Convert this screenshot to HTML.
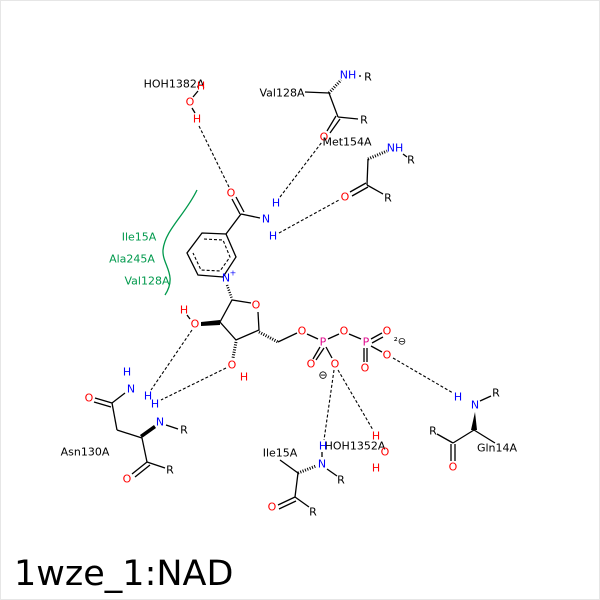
<!DOCTYPE html>
<html><head><meta charset="utf-8"><style>
html,body{margin:0;padding:0;background:#fff}
svg{display:block}
text{font-family:"DejaVu Sans","Liberation Sans",sans-serif;font-size:11px}
.b{stroke:#000;stroke-width:1.3;fill:none}
.d{stroke:#000;stroke-width:1.1;stroke-dasharray:3,2;fill:none}
.r{fill:#f00}.n{fill:#00f}.p{fill:#e0088c}.g{fill:#00994c}
</style></head><body>
<svg width="600" height="600" viewBox="0 0 600 600" xmlns="http://www.w3.org/2000/svg">
<rect x="0.5" y="0.5" width="599" height="599" fill="#fff" stroke="#e6e6e6"/>
<g text-anchor="middle" dominant-baseline="central">
<text x="174" y="84">HOH1382A</text>
<text x="201" y="86" class="r">H</text>
<text x="190" y="102" class="r">O</text>
<text x="197" y="119" class="r">H</text>
<line class="b" x1="193" y1="97" x2="198" y2="91"/>
<line class="b" x1="192" y1="108" x2="195" y2="113"/>
<line class="d" x1="199" y1="126" x2="229" y2="187"/>
<text x="231" y="193" class="r">O</text>
<line class="b" x1="232" y1="199" x2="240" y2="214"/>
<line class="b" x1="236" y1="197" x2="244" y2="212"/>
<line class="b" x1="241" y1="214" x2="260" y2="218"/>
<text x="266" y="219" class="n">N</text>
<text x="276" y="203" class="n">H</text>
<text x="273" y="236" class="n">H</text>
<line class="b" x1="241" y1="214" x2="226" y2="234"/>
<line class="d" x1="280" y1="197" x2="322" y2="142"/>
<line class="d" x1="279" y1="233" x2="339" y2="200"/>
<polygon class="b" points="202,233 226,234 236,257 223,277 198,275 187,253"/>
<polyline class="d" points="204,239 223,240 230,257 220,271 201,270 193,253"/>
<text x="226" y="278" class="n">N</text><text x="233" y="273" class="n" style="font-size:8px">+</text>
<line class="d" x1="227" y1="285" x2="232" y2="299" style="stroke-width:2.5;stroke-dasharray:1,1.5"/>
<polyline class="b" points="251,303 232,300 220,322 236,340 259,330 258,312"/>
<text x="256" y="305" class="r">O</text>
<polygon points="220,320 220,325 201,326 201,322" fill="#000"/>
<text x="195" y="324" class="r">O</text>
<text x="184" y="310" class="r">H</text>
<line class="b" x1="190" y1="319" x2="187" y2="315"/>
<line class="d" x1="236" y1="342" x2="233" y2="358" style="stroke-width:3;stroke-dasharray:1,1.5"/>
<text x="232" y="365" class="r">O</text>
<text x="244" y="377" class="r">H</text>
<line class="d" x1="259" y1="332" x2="278" y2="342" style="stroke-width:3;stroke-dasharray:1,1.5"/>
<line class="b" x1="278" y1="342" x2="297" y2="333"/>
<text x="302" y="331" class="r">O</text>
<line class="b" x1="307" y1="334" x2="318" y2="339"/>
<text x="323" y="342" class="p">P</text>
<line class="b" x1="328" y1="339" x2="339" y2="334"/>
<text x="344" y="331" class="r">O</text>
<line class="b" x1="320" y1="347" x2="313" y2="359"/>
<line class="b" x1="324" y1="348" x2="316" y2="360"/>
<line class="b" x1="326" y1="347" x2="332" y2="358"/>
<text x="311" y="364" class="r">O</text>
<text x="335" y="364" class="r">O</text>
<text x="323" y="375">⊖</text>
<line class="b" x1="349" y1="334" x2="361" y2="339"/>
<text x="366" y="342" class="p">P</text>
<line class="b" x1="371" y1="339" x2="382" y2="333"/>
<line class="b" x1="372" y1="343" x2="383" y2="337"/>
<text x="387" y="331" class="r">O</text>
<line class="b" x1="364" y1="348" x2="364" y2="362"/>
<line class="b" x1="367" y1="348" x2="367" y2="362"/>
<text x="365" y="368" class="r">O</text>
<line class="b" x1="371" y1="346" x2="382" y2="352"/>
<text x="387" y="355" class="r">O</text>
<text x="400" y="342" style="font-size:10px">²⊖</text>
<line class="d" x1="393" y1="358" x2="453" y2="393"/>
<line class="d" x1="334" y1="370" x2="324" y2="440"/>
<line class="d" x1="338" y1="370" x2="373" y2="430"/>
<text x="458" y="397" class="n">H</text>
<text x="475" y="405" class="n">N</text>
<text x="496" y="393">R</text>
<line class="b" x1="480" y1="401" x2="491" y2="396"/>
<polygon points="471,430 477,430 475,412" fill="#000"/>
<line class="b" x1="474" y1="430" x2="453" y2="443"/>
<line class="b" x1="474" y1="430" x2="495" y2="443"/>
<line class="b" x1="453" y1="443" x2="437" y2="434"/>
<text x="433" y="431">R</text>
<line class="b" x1="451" y1="444" x2="451" y2="461"/>
<line class="b" x1="455" y1="444" x2="455" y2="461"/>
<text x="453" y="467" class="r">O</text>
<text x="497" y="448">Gln14A</text>
<text x="355" y="446">HOH1352A</text>
<text x="376" y="436" class="r">H</text>
<text x="385" y="452" class="r">O</text>
<text x="376" y="468" class="r">H</text>
<text x="323" y="446" class="n">H</text>
<text x="322" y="464" class="n">N</text>
<line class="b" x1="322" y1="452" x2="322" y2="457"/>
<line class="b" x1="327" y1="469" x2="337" y2="476"/>
<text x="341" y="480">R</text>
<line class="d" x1="298" y1="473" x2="316" y2="466" style="stroke-width:3;stroke-dasharray:1,1.5"/>
<text x="280" y="453">Ile15A</text>
<line class="b" x1="298" y1="473" x2="280" y2="460"/>
<line class="b" x1="298" y1="473" x2="295" y2="497"/>
<line class="b" x1="295" y1="497" x2="278" y2="505"/>
<line class="b" x1="296" y1="501" x2="279" y2="509"/>
<text x="272" y="507" class="r">O</text>
<line class="b" x1="295" y1="497" x2="309" y2="507"/>
<text x="313" y="512">R</text>
<line class="d" x1="192" y1="330" x2="151" y2="390"/>
<line class="d" x1="226" y1="368" x2="161" y2="400"/>
<text x="127" y="372" class="n">H</text>
<text x="131" y="389" class="n">N</text>
<text x="148" y="396" class="n">H</text>
<text x="155" y="404" class="n">H</text>
<text x="160" y="422" class="n">N</text>
<line class="b" x1="166" y1="425" x2="178" y2="429"/>
<text x="184" y="430">R</text>
<line class="b" x1="125" y1="393" x2="112" y2="403"/>
<line class="b" x1="112" y1="403" x2="95" y2="398"/>
<line class="b" x1="111" y1="407" x2="94" y2="402"/>
<text x="89" y="398" class="r">O</text>
<line class="b" x1="112" y1="403" x2="117" y2="430"/>
<line class="b" x1="117" y1="430" x2="142" y2="438"/>
<polygon points="142,438 140,435 154,425 156,428" fill="#000"/>
<line class="b" x1="142" y1="438" x2="147" y2="462"/>
<line class="b" x1="147" y1="462" x2="132" y2="474"/>
<line class="b" x1="150" y1="465" x2="135" y2="477"/>
<text x="127" y="479" class="r">O</text>
<line class="b" x1="147" y1="462" x2="165" y2="468"/>
<text x="170" y="470">R</text>
<text x="85" y="452">Asn130A</text>
<text x="282" y="93">Val128A</text>
<line class="b" x1="305" y1="92" x2="329" y2="93"/>
<line class="d" x1="329" y1="93" x2="341" y2="80" style="stroke-width:3;stroke-dasharray:1,1.5"/>
<text x="348" y="75" class="n">NH</text>
<line class="b" x1="359" y1="76" x2="361" y2="76"/>
<text x="368" y="77">R</text>
<line class="b" x1="329" y1="93" x2="338" y2="117"/>
<line class="b" x1="338" y1="117" x2="358" y2="119"/>
<text x="364" y="120">R</text>
<line class="b" x1="336" y1="116" x2="327" y2="131"/>
<line class="b" x1="340" y1="119" x2="330" y2="133"/>
<text x="324" y="137" class="r">O</text>
<text x="347" y="142">Met154A</text>
<line class="d" x1="368" y1="159" x2="387" y2="151" style="stroke-width:3;stroke-dasharray:1,1.5"/>
<text x="395" y="148" class="n">NH</text>
<line class="b" x1="403" y1="154" x2="407" y2="157"/>
<text x="411" y="160">R</text>
<line class="b" x1="368" y1="159" x2="367" y2="185"/>
<line class="b" x1="367" y1="185" x2="383" y2="194"/>
<text x="388" y="198">R</text>
<line class="b" x1="366" y1="183" x2="350" y2="192"/>
<line class="b" x1="368" y1="187" x2="352" y2="196"/>
<text x="345" y="197" class="r">O</text>
<path d="M197,190 C185,215 165,230 163,250 C162,265 178,275 165,295" stroke="#00994c" stroke-width="1.3" fill="none"/>
<text x="139" y="237" class="g">Ile15A</text>
<text x="132" y="259" class="g">Ala245A</text>
<text x="147" y="281" class="g">Val128A</text>
</g>
<text x="14" y="585" style="font-family:'DejaVu Sans','Liberation Sans',sans-serif;font-size:35px">1wze_1:NAD</text>
</svg>
</body></html>
